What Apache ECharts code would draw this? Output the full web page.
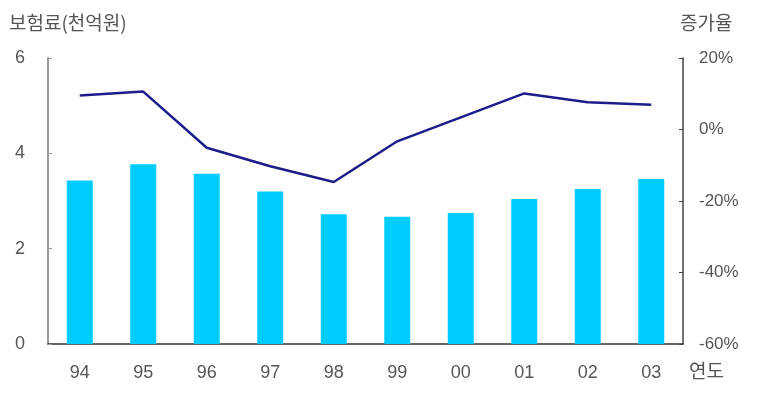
<!DOCTYPE html>
<html><head><meta charset="utf-8">
<script src="https://cdn.jsdelivr.net/npm/echarts@6/dist/echarts.min.js"></script>
<style>html,body{margin:0;padding:0;background:#fff}#c{width:757px;height:403px}</style>
</head><body><div id="c"></div>
<script>
const years = ['94','95','96','97','98','99','00','01','02','03'];
const premium = [3.43, 3.77, 3.57, 3.20, 2.72, 2.67, 2.75, 3.04, 3.25, 3.46];
const growth = [9.5, 10.6, -5.1, -10.3, -14.7, -3.3, 3.4, 10.1, 7.6, 6.9];
const leftTicks = [0, 2, 4, 6];
const rightTicks = [-60, -40, -20, 0, 20];

const font = '"Liberation Sans", "Noto Sans CJK KR", sans-serif';
const kfont = '"Noto Sans CJK KR", sans-serif';
const chart = echarts.init(document.getElementById('c'), null, {renderer:'canvas'});
chart.setOption({
  animation:false,
  backgroundColor:'#fff',
  grid:{left:48, right:74, top:58, bottom:59},
  xAxis:{type:'category', data:years, boundaryGap:true,
    axisLine:{lineStyle:{color:'#333', width:1.5}},
    axisTick:{show:false},
    axisLabel:{color:'#555', fontSize:18, fontFamily:font, margin:20}},
  yAxis:[
    {type:'value', min:leftTicks[0], max:leftTicks[leftTicks.length-1], interval:2, position:'left',
      axisLine:{show:true, lineStyle:{color:'#999', width:2}},
      axisTick:{show:true, inside:true, length:4, lineStyle:{color:'#999'}},
      splitLine:{show:false},
      axisLabel:{color:'#555', fontSize:18, fontFamily:font, margin:23}},
    {type:'value', min:rightTicks[0], max:rightTicks[rightTicks.length-1], interval:20, position:'right',
      axisLine:{show:true, lineStyle:{color:'#444', width:1.5}},
      axisTick:{show:true, inside:true, length:4, lineStyle:{color:'#444'}},
      splitLine:{show:false},
      axisLabel:{color:'#555', fontSize:17, fontFamily:font, margin:16, formatter:'{value}%'}}
  ],
  series:[
    {type:'bar', data:premium, yAxisIndex:0, barWidth:26, itemStyle:{color:'#00ccff'}},
    {type:'line', data:growth, yAxisIndex:1, symbol:'none', lineStyle:{color:'#1c1c8a', width:2.5}}
  ],
  graphic:[
    {type:'text', left:9, top:13, style:{text:'보험료(천억원)', fill:'#555', font:'19px '+kfont}},
    {type:'text', left:680, top:13, style:{text:'증가율', fill:'#555', font:'19px '+kfont}},
    {type:'text', left:689, top:361, style:{text:'연도', fill:'#555', font:'19px '+kfont}}
  ]
});
</script></body></html>
